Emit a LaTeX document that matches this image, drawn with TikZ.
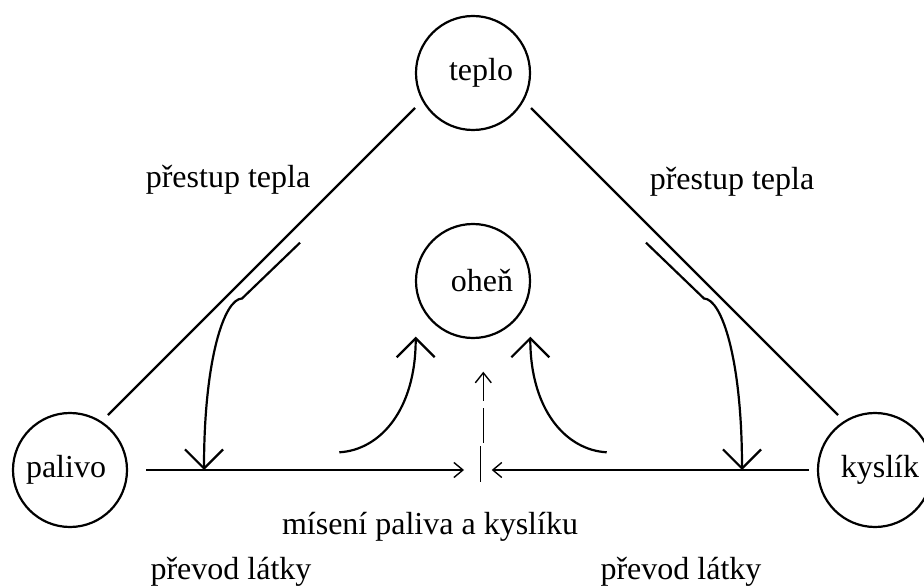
\documentclass[tikz,border=0pt]{standalone}
\usepackage{fontspec}
\setmainfont{Liberation Serif}
\usetikzlibrary{arrows.meta,calc}
\begin{document}
\begin{tikzpicture}[x=1pt,y=-1pt,
  ring/.style={draw, circle, line width=2.2pt, minimum size=114pt, inner sep=0pt},
  lbl/.style={font=\fontsize{32}{38}\selectfont, inner sep=0pt},
  heavy/.style={line width=2.2pt},
  slimline/.style={line width=1.4pt},
  bigtip/.style={-{Straight Barb[length=19pt,width=38pt]}},
  smalltip/.style={-{Straight Barb[length=9pt,width=15pt]}}]
\useasboundingbox (0,0) rectangle (924,588);

% the four elements of the fire triangle
\node[ring, label={[lbl,name=teplo-text,xshift=8pt]center:teplo}] (teplo) at (473,73) {};
\node[ring, label={[lbl,name=ohen-text,xshift=9pt]center:oheň}] (ohen) at (473,281) {};
\node[ring, label={[lbl,name=palivo-text,xshift=-4pt]center:palivo}] (palivo) at (70,470) {};
\node[ring, label={[lbl,name=kyslik-text,xshift=5pt]center:kyslík}] (kyslik) at (875,470) {};

% sides of the triangle
\coordinate (tl) at ($(teplo)+(-58,35)$);
\coordinate (pl) at ($(palivo)+(38,-55)$);
\coordinate (tr) at ($(teplo)+(58,35)$);
\coordinate (kr) at ($(kyslik)+(-37,-55)$);
\draw[heavy] (tl) -- (pl);
\draw[heavy] (tr) -- (kr);

% heat transfer branches running beside the sides
\coordinate (hl0) at (300,242.7);
\coordinate (hl1) at (242,298.5);
\coordinate (hl2) at (204,470);
\coordinate (hr0) at (646,242.7);
\coordinate (hr1) at (704,298.5);
\coordinate (hr2) at (742,470);
\draw[heavy, bigtip] (hl0) -- (hl1) .. controls (224,299) and (204,360) .. (hl2);
\draw[heavy, bigtip] (hr0) -- (hr1) .. controls (722,299) and (742,360) .. (hr2);

% mass transfer towards the mixing point
\coordinate (mixl) at (464,470);
\coordinate (mixr) at (491.7,470);
\draw[slimline, smalltip] ($(palivo)+(76,0)$) -- (mixl);
\draw[slimline, smalltip] ($(kyslik)+(-66,0)$) -- (mixr);
\coordinate (bar0) at (480.5,446);
\coordinate (bar1) at (480.5,481.7);
\draw[slimline] (bar0) -- (bar1);
\coordinate (up0) at (483.3,442.7);
\coordinate (up1) at (483.3,371.7);
\draw[slimline, -{Straight Barb[length=10pt,width=16pt]}, dash pattern=on 35pt off 7pt] (up0) -- (up1);

% flows rising into the fire
\coordinate (fl0) at (339.3,452.3);
\coordinate (fl1) at (415.7,336.7);
\coordinate (fr0) at (606.7,452.3);
\coordinate (fr1) at (530.3,336.7);
\draw[heavy, bigtip] (fl0) .. controls (380,450) and (415.7,410) .. (fl1);
\draw[heavy, bigtip] (fr0) .. controls (566,450) and (530.3,410) .. (fr1);

% captions
\node[lbl, anchor=base] (heat-left) at (228,188) {přestup tepla};
\node[lbl, anchor=base] (heat-right) at (732,190) {přestup tepla};
\node[lbl, anchor=base] (mixing) at (430,534) {mísení paliva a kyslíku};
\node[lbl, anchor=base] (mass-left) at (231,579) {převod látky};
\node[lbl, anchor=base] (mass-right) at (681,579) {převod látky};
\end{tikzpicture}
\end{document}
